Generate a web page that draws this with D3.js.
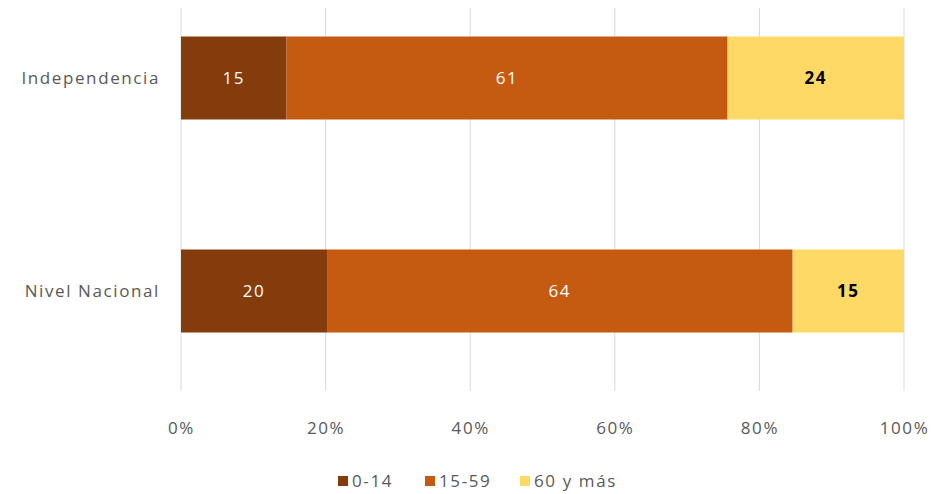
<!DOCTYPE html>
<html><head><meta charset="utf-8">
<script src="https://cdn.jsdelivr.net/npm/d3@7"></script>
<style>body{margin:0;background:#fff;}svg{display:block;font-family:"Open Sans","Liberation Sans",sans-serif;}</style>
</head><body><div id="chart"></div>
<script>
const categories = ["Independencia", "Nivel Nacional"];
const seriesNames = ["0-14", "15-59", "60 y más"];
const values0_14 = [14.6, 20.2];
const values15_59 = [61.0, 64.4];
const values60 = [24.4, 15.4];
const labels0_14 = ["15", "20"];
const labels15_59 = ["61", "64"];
const labels60 = ["24", "15"];
const tickValues = [0, 0.2, 0.4, 0.6, 0.8, 1.0];
const colors = ["#843C0C", "#C55A11", "#FFD966"];
const labelColors = ["#ffffff", "#ffffff", "#000000"];

const W = 931, H = 494;
const FS = 17, LS = "1.6px";
const svg = d3.select("#chart").append("svg").attr("width", W).attr("height", H);

const x = d3.scaleLinear().domain([0, 1]).range([181, 904]);
const y = d3.scalePoint().domain(categories).range([78, 291]);
const barH = 83;

// gridlines
svg.append("g").selectAll("line").data(tickValues).join("line")
  .attr("x1", d => x(d)).attr("x2", d => x(d))
  .attr("y1", 8).attr("y2", 391)
  .attr("stroke", "#d9d9d9").attr("stroke-width", 1);

const rows = categories.map((c, i) => {
  const vals = [values0_14[i], values15_59[i], values60[i]];
  const labs = [labels0_14[i], labels15_59[i], labels60[i]];
  const tot = d3.sum(vals);
  let acc = 0;
  return vals.map((v, k) => {
    const s = { cat: c, k, x0: acc / tot, x1: (acc + v) / tot, label: labs[k] };
    acc += v;
    return s;
  });
}).flat();

svg.append("g").selectAll("rect").data(rows).join("rect")
  .attr("x", d => x(d.x0)).attr("width", d => x(d.x1) - x(d.x0))
  .attr("y", d => y(d.cat) - barH / 2).attr("height", barH)
  .attr("fill", d => colors[d.k]);

svg.append("g").selectAll("text").data(rows).join("text")
  .attr("x", d => (x(d.x0) + x(d.x1)) / 2).attr("y", d => y(d.cat))
  .attr("dy", "0.35em").attr("text-anchor", "middle")
  .attr("font-size", FS).attr("letter-spacing", LS).attr("fill", d => labelColors[d.k])
  .attr("font-weight", d => d.k === 2 ? "bold" : "normal")
  .text(d => d.label);

// category axis labels
svg.append("g").selectAll("text").data(categories).join("text")
  .attr("x", 160).attr("y", d => y(d)).attr("dy", "0.35em")
  .attr("text-anchor", "end").attr("font-size", FS).attr("letter-spacing", LS).attr("fill", "#595959")
  .text(d => d);

// x axis
const xAxis = d3.axisBottom(x).tickValues(tickValues).tickFormat(d3.format(".0%")).tickSize(0).tickPadding(0);
const gx = svg.append("g").attr("transform", "translate(0,422)").call(xAxis);
gx.select(".domain").remove();
gx.selectAll("text").attr("font-size", FS).attr("letter-spacing", LS).attr("fill", "#595959")
  .attr("font-family", "Open Sans, Liberation Sans, sans-serif");

// legend
const legendX = [338, 425, 520];
const lg = svg.append("g").selectAll("g").data(seriesNames).join("g")
  .attr("transform", (d, i) => `translate(${legendX[i]},481)`);
lg.append("rect").attr("x", 0).attr("y", -5).attr("width", 10).attr("height", 10)
  .attr("fill", (d, i) => colors[i]);
lg.append("text").attr("x", 14).attr("dy", "0.35em").attr("font-size", FS).attr("letter-spacing", LS)
  .attr("fill", "#595959").text(d => d);
</script></body></html>
